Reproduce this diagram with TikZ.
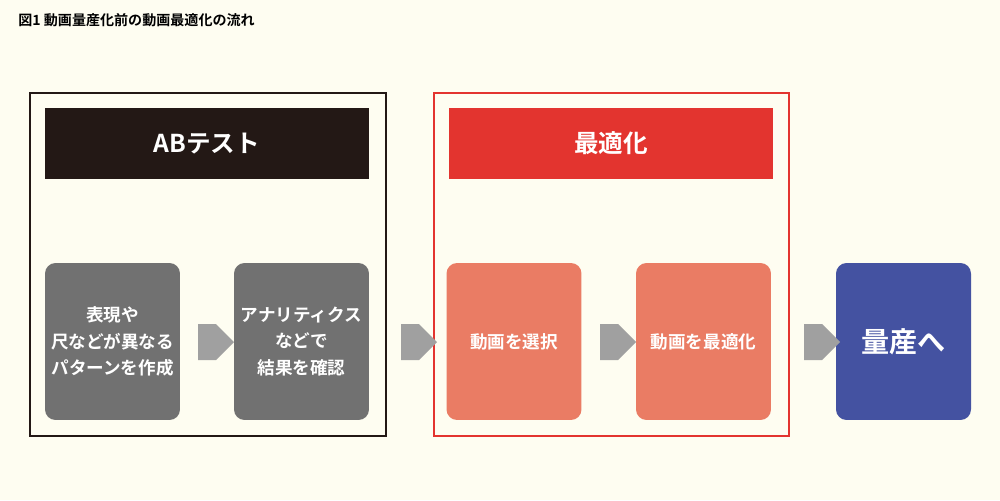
\documentclass[tikz,border=0pt]{standalone}
\usepackage{fontspec}
\setmainfont{Noto Sans CJK JP}
\newfontfamily\jpb{Noto Sans CJK JP}[BoldFont={* Bold}]
\usetikzlibrary{shapes.arrows}
\definecolor{bg}{HTML}{FEFDF1}
\definecolor{dk}{HTML}{231815}
\definecolor{rd}{HTML}{E3342F}
\definecolor{gr}{HTML}{717171}
\definecolor{sl}{HTML}{EA7C64}
\definecolor{bl}{HTML}{4452A1}
\definecolor{ar}{HTML}{A0A0A0}
\tikzset{
 box/.style={rounded corners=6pt,draw=none,text=white,font=\jpb\bfseries\fontsize{10}{15}\selectfont,align=center,minimum width=2.7cm,minimum height=3.14cm,inner sep=0pt},
 hdr/.style={text=white,font=\jpb\bfseries\fontsize{14}{16}\selectfont,minimum width=6.48cm,minimum height=1.42cm,inner sep=0pt},
 barrow/.style={single arrow,fill=ar,draw=none,minimum height=0.72cm,minimum width=0.72cm,single arrow head extend=0pt,inner sep=0pt,single arrow tip angle=90}
}
\begin{document}
\begin{tikzpicture}[x=0.02cm,y=-0.02cm]
\fill[bg] (0,0) rectangle (1000,500);
\useasboundingbox (0,0) rectangle (1000,500);
\node[anchor=west,font=\jpb\bfseries\fontsize{8}{10}\selectfont,inner sep=0pt] (title) at (18,20) {図1 動画量産化前の動画最適化の流れ};
\draw[dk,line width=1.2pt] (30,93) rectangle (386,436);
\draw[rd,line width=1pt] (434,93) rectangle (789,436);
\node[hdr,fill=dk] (h1) at (207,143.5) {ABテスト};
\node[hdr,fill=rd] (h2) at (611,143.5) {最適化};
\node[box,fill=gr] (b1) at (112.5,341.5) {表現や\\尺などが異なる\\パターンを作成};
\node[box,fill=gr] (b2) at (301.5,341.5) {アナリティクス\\などで\\結果を確認};
\node[box,fill=sl] (b3) at (514,341.5) {動画を選択};
\node[box,fill=sl] (b4) at (703.5,341.5) {動画を最適化};
\node[box,fill=bl,font=\jpb\bfseries\fontsize{16}{18}\selectfont] (b5) at (903.5,341.5) {量産へ};
\node[barrow] (a1) at (207,342) {};
\node[barrow] (a2) at (410,342) {};
\node[barrow] (a3) at (609,342) {};
\node[barrow] (a4) at (813,342) {};
\end{tikzpicture}
\end{document}
